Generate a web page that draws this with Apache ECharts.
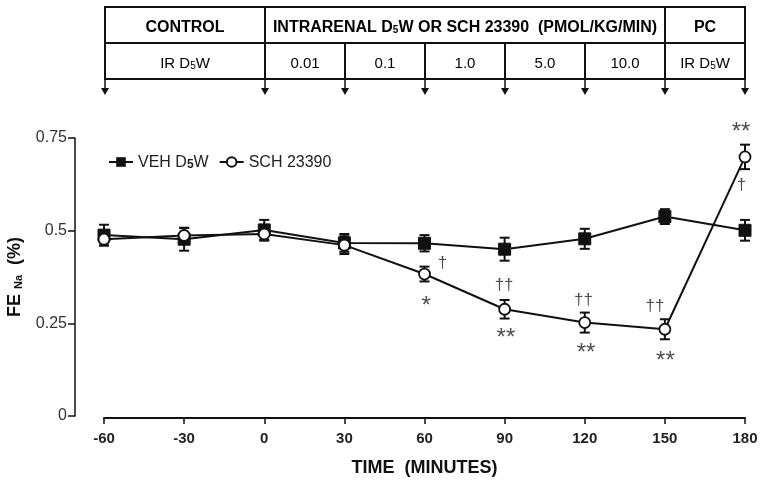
<!DOCTYPE html>
<html>
<head>
<meta charset="utf-8">
<script src="https://cdn.jsdelivr.net/npm/echarts@6/dist/echarts.min.js"></script>
<style>html,body{margin:0;padding:0;background:#fff}#c{width:764px;height:484px}</style>
</head>
<body>
<div id="c"></div>
<script>
// ---- data ----
var times = [-60, -30, 0, 30, 60, 90, 120, 150, 180];
var xTicks = [-60, -30, 0, 30, 60, 90, 120, 150, 180];
var yTicks = [0, 0.25, 0.5, 0.75];
var yTickLabels = ['0', '0.25', '0.5', '0.75'];
var vehMean = [0.488, 0.477, 0.502, 0.467, 0.466, 0.450, 0.478, 0.538, 0.501];
var vehErr  = [0.028, 0.031, 0.027, 0.024, 0.022, 0.031, 0.027, 0.020, 0.028];
var schMean = [0.477, 0.487, 0.491, 0.461, 0.383, 0.288, 0.252, 0.234, 0.699];
var schErr  = [0.017, 0.020, 0.018, 0.024, 0.020, 0.025, 0.027, 0.027, 0.033];
// table: [startTime, endTime, row, text]
var headerCells = [[-60, 0, 0, '{b|CONTROL}'], [0, 150, 0, '{b|INTRARENAL D}{bs|5}{b|W OR SCH 23390  (PMOL/KG/MIN)}'], [150, 180, 0, '{b|PC}']];
var doseCells = [[-60, 0, 1, '{n|IR D}{ns|5}{n|W}'], [0, 30, 1, '{n|0.01}'], [30, 60, 1, '{n|0.1}'], [60, 90, 1, '{n|1.0}'], [90, 120, 1, '{n|5.0}'], [120, 150, 1, '{n|10.0}'], [150, 180, 1, '{n|IR D}{ns|5}{n|W}']];
var arrowTimes = [-60, 0, 30, 60, 90, 120, 150, 180];
// significance marks: [time, value, text]
var daggers = [[66.7, 0.411, '†'], [89.8, 0.352, '††'], [119.5, 0.313, '††'], [146.3, 0.295, '††'], [178.7, 0.622, '†']];
var stars = [[60.6, 0.297, '*'], [90.5, 0.209, '**'], [120.5, 0.169, '**'], [150.2, 0.148, '**'], [178.5, 0.766, '**']];

var sans = 'Liberation Sans, Arial, sans-serif';
var narrow = "'Liberation Sans Narrow', 'Arial Narrow', 'Liberation Sans', sans-serif";
var rich = {
  b: {fontFamily: sans, fontWeight: 'bold', fontSize: 16, lineHeight: 19, verticalAlign: 'bottom', color: '#111'},
  bs: {fontFamily: sans, fontWeight: 'bold', fontSize: 10, lineHeight: 14, verticalAlign: 'bottom', color: '#111'},
  n: {fontFamily: sans, fontSize: 15, lineHeight: 18, verticalAlign: 'bottom', color: '#222'},
  ns: {fontFamily: sans, fontSize: 10, lineHeight: 14, verticalAlign: 'bottom', color: '#222'}
};

function pairs(m) { return times.map(function (t, i) { return [t, m[i]]; }); }
function errData(m, e) { return times.map(function (t, i) { return [t, m[i] - e[i], m[i] + e[i]]; }); }

function errRender(params, api) {
  var lo = api.coord([api.value(0), api.value(1)]);
  var hi = api.coord([api.value(0), api.value(2)]);
  var w = 5;
  var st = {stroke: '#111', lineWidth: 2};
  return {type: 'group', children: [
    {type: 'line', shape: {x1: lo[0], y1: lo[1], x2: hi[0], y2: hi[1]}, style: st},
    {type: 'line', shape: {x1: lo[0] - w, y1: lo[1], x2: lo[0] + w, y2: lo[1]}, style: st},
    {type: 'line', shape: {x1: hi[0] - w, y1: hi[1], x2: hi[0] + w, y2: hi[1]}, style: st}
  ]};
}

function makeCellRender(cells) {
  return function (params, api) {
    var p0 = api.coord([api.value(0), api.value(2)]);
    var p1 = api.coord([api.value(1), api.value(2) + 1]);
    var txt = cells[params.dataIndex][3];
    return {type: 'group', children: [
      {type: 'rect', shape: {x: p0[0], y: p0[1], width: p1[0] - p0[0], height: p1[1] - p0[1]}, style: {fill: 'none', stroke: '#111', lineWidth: 2}},
      {type: 'text', style: {text: txt, rich: rich, x: (p0[0] + p1[0]) / 2, y: (p0[1] + p1[1]) / 2 + 1, align: 'center', verticalAlign: 'middle'}}
    ]};
  };
}

function arrowRender(params, api) {
  var a = api.coord([api.value(0), 2]);
  var b = api.coord([api.value(0), 2.444]);
  return {type: 'group', children: [
    {type: 'line', shape: {x1: a[0], y1: a[1], x2: b[0], y2: b[1] - 5}, style: {stroke: '#111', lineWidth: 1.5}},
    {type: 'polygon', shape: {points: [[b[0] - 4, b[1] - 7], [b[0] + 4, b[1] - 7], [b[0], b[1]]]}, style: {fill: '#111'}}
  ]};
}

var chart = echarts.init(document.getElementById('c'), null, {renderer: 'canvas'});
chart.setOption({
  animation: false,
  backgroundColor: '#fff',
  grid: [
    {left: 104, right: 19, top: 138, bottom: 68, outerBoundsMode: 'none', containLabel: false},
    {left: 105, right: 19, top: 7, height: 88, outerBoundsMode: 'none', containLabel: false}
  ],
  legend: {
    left: 103, top: 150, itemWidth: 24, itemHeight: 12, itemGap: 10,
    data: ['VEH', 'SCH'],
    formatter: function (n) { return n === 'VEH' ? '{n|VEH D}{s|5}{n|W}' : '{n|SCH 23390}'; },
    textStyle: {rich: {
      n: {fontFamily: sans, fontSize: 16, color: '#222', lineHeight: 18, verticalAlign: 'bottom'},
      s: {fontFamily: sans, fontSize: 12, fontWeight: 'bold', color: '#222', lineHeight: 15, verticalAlign: 'bottom'}
    }}
  },
  xAxis: [
    {gridIndex: 0, type: 'value', min: -60, max: 180, interval: 30, offset: 2,
      name: 'TIME  (MINUTES)', nameLocation: 'middle', nameGap: 41,
      nameTextStyle: {fontFamily: narrow, fontWeight: 'bold', fontSize: 18, color: '#111'},
      axisLine: {onZero: false, lineStyle: {color: '#111', width: 2}},
      axisTick: {length: 6, lineStyle: {color: '#111', width: 1.5}},
      axisLabel: {margin: 13, fontFamily: narrow, fontWeight: 'bold', fontSize: 15, color: '#222',
        formatter: function (v) { return xTicks.indexOf(v) >= 0 ? String(v) : ''; }},
      splitLine: {show: false}},
    {gridIndex: 1, type: 'value', min: -60, max: 180, show: false}
  ],
  yAxis: [
    {gridIndex: 0, type: 'value', min: 0, max: 0.75, interval: 0.25, offset: 29,
      name: '{b|FE }{s|Na}{b|  (%)}', nameLocation: 'middle', nameGap: 51,
      nameTextStyle: {rich: {
        b: {fontFamily: sans, fontWeight: 'bold', fontSize: 18, color: '#111', lineHeight: 20, verticalAlign: 'bottom'},
        s: {fontFamily: sans, fontWeight: 'bold', fontSize: 11, color: '#111', lineHeight: 14, verticalAlign: 'bottom'}
      }},
      axisLine: {show: true, onZero: false, lineStyle: {color: '#111', width: 1.5}},
      axisTick: {show: true, length: 7, lineStyle: {color: '#111', width: 1.5}},
      axisLabel: {margin: 8, fontFamily: sans, fontSize: 16, color: '#333',
        formatter: function (v) { var i = yTicks.indexOf(v); return i >= 0 ? yTickLabels[i] : ''; }},
      splitLine: {show: false}},
    {gridIndex: 1, type: 'value', min: 0, max: 2.444, inverse: true, show: false}
  ],
  series: [
    {name: 'vehErr', type: 'custom', xAxisIndex: 0, yAxisIndex: 0, renderItem: errRender, data: errData(vehMean, vehErr), z: 1, silent: true},
    {name: 'schErr', type: 'custom', xAxisIndex: 0, yAxisIndex: 0, renderItem: errRender, data: errData(schMean, schErr), z: 1, silent: true},
    {name: 'VEH', type: 'line', data: pairs(vehMean), symbol: 'rect', symbolSize: 12,
      lineStyle: {color: '#111', width: 2}, itemStyle: {color: '#111', borderColor: '#111'}, z: 3},
    {name: 'SCH', type: 'line', data: pairs(schMean), symbol: 'circle', symbolSize: 11,
      lineStyle: {color: '#111', width: 2}, itemStyle: {color: '#fff', borderColor: '#111', borderWidth: 1.8}, z: 4},
    {name: 'dag', type: 'scatter', data: daggers, symbolSize: 0, z: 5, silent: true, clip: false,
      label: {show: true, position: 'inside', formatter: function (p) { return p.value[2]; },
        fontFamily: sans, fontSize: 17, color: '#222'}},
    {name: 'star', type: 'scatter', data: stars, symbolSize: 0, z: 5, silent: true, clip: false,
      label: {show: true, position: 'inside', formatter: function (p) { return p.value[2]; },
        fontFamily: sans, fontSize: 24, color: '#222'}},
    {name: 'hdr', type: 'custom', xAxisIndex: 1, yAxisIndex: 1, renderItem: makeCellRender(headerCells), data: headerCells.map(function (c) { return [c[0], c[1], c[2]]; }), silent: true},
    {name: 'dose', type: 'custom', xAxisIndex: 1, yAxisIndex: 1, renderItem: makeCellRender(doseCells), data: doseCells.map(function (c) { return [c[0], c[1], c[2]]; }), silent: true},
    {name: 'arrows', type: 'custom', xAxisIndex: 1, yAxisIndex: 1, renderItem: arrowRender, data: arrowTimes.map(function (t) { return [t]; }), silent: true}
  ]
});
</script>
</body>
</html>
